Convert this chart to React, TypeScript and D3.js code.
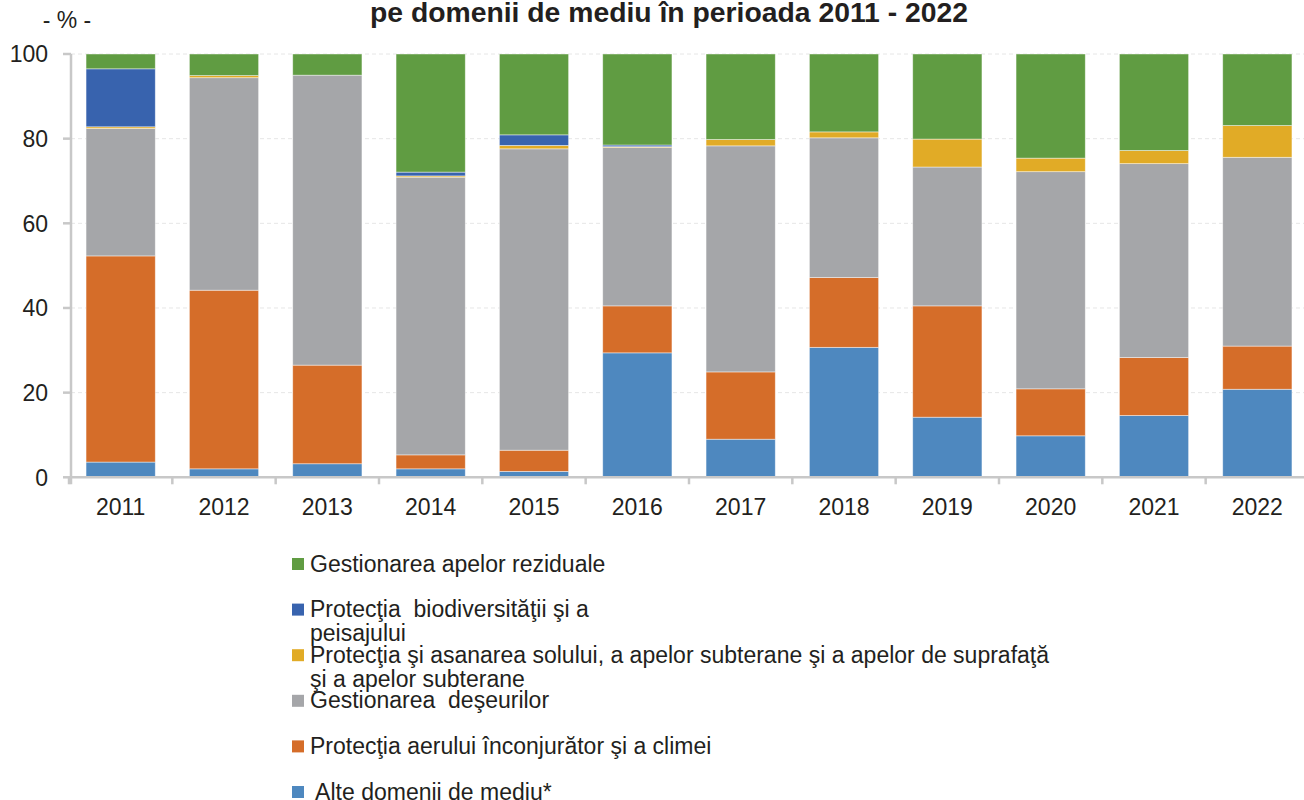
import * as d3 from 'd3';
import React, { useEffect, useRef } from 'react';

const years = ['2011', '2012', '2013', '2014', '2015', '2016', '2017', '2018', '2019', '2020', '2021', '2022'];

// stacked bottom -> top
const alte = [3.6, 2.0, 3.2, 2.0, 1.4, 29.4, 9.0, 30.7, 14.2, 9.8, 14.6, 20.8];
const aer = [48.7, 42.2, 23.3, 3.3, 5.0, 11.1, 15.9, 16.5, 26.3, 11.1, 13.7, 10.2];
const deseuri = [30.1, 50.2, 68.5, 65.6, 71.2, 37.4, 53.4, 33.0, 32.8, 51.3, 45.8, 44.6];
const sol = [0.4, 0.5, 0.0, 0.3, 0.8, 0.2, 1.5, 1.4, 6.6, 3.2, 3.1, 7.5];
const biodiv = [13.7, 0.0, 0.0, 0.9, 2.5, 0.4, 0.0, 0.0, 0.0, 0.0, 0.0, 0.0];
const apeRez = [3.5, 5.1, 5.0, 27.9, 19.1, 21.5, 20.2, 18.4, 20.1, 24.6, 22.8, 16.9];

const yTicks = [0, 20, 40, 60, 80, 100];

const keys = ['alte', 'aer', 'deseuri', 'sol', 'biodiv', 'apeRez'];
const colors = ['#4e88bf', '#d56d29', '#a5a6a9', '#e1ab26', '#3863ae', '#609c42'];

// legend, top -> bottom
const legendKeys = ['apeRez', 'biodiv', 'sol', 'deseuri', 'aer', 'alte'];
const legendLabels = [
  ['Gestionarea apelor reziduale'],
  ['Protecţia  biodiversităţii şi a', 'peisajului'],
  ['Protecţia şi asanarea solului, a apelor subterane şi a apelor de suprafaţă', 'şi a apelor subterane'],
  ['Gestionarea  deşeurilor'],
  ['Protecţia aerului înconjurător şi a climei'],
  [' Alte domenii de mediu*'],
];

const title = 'pe domenii de mediu în perioada 2011 - 2022';

export default function App() {
  const ref = useRef<SVGSVGElement>(null);

  useEffect(() => {
    const svg = d3.select(ref.current);
    svg.selectAll('*').remove();

    const font = '"Liberation Sans", Arial, sans-serif';
    const textColor = '#231f20';
    const axisColor = '#c8c8c8';

    const rows = years.map((year, i) => ({
      year,
      alte: alte[i],
      aer: aer[i],
      deseuri: deseuri[i],
      sol: sol[i],
      biodiv: biodiv[i],
      apeRez: apeRez[i],
    }));

    const x = d3.scaleBand().domain(years).range([69, 1309]).paddingInner(0.33).paddingOuter(0.165);
    const y = d3.scaleLinear().domain([0, 100]).range([477.3, 54]);
    const color = d3.scaleOrdinal<string>().domain(keys).range(colors);

    // title (its first line lies above the frame, as in the source image)
    svg.append('text')
      .attr('x', 669)
      .attr('y', 22)
      .attr('text-anchor', 'middle')
      .attr('font-family', font)
      .attr('font-weight', 'bold')
      .attr('font-size', 28)
      .attr('fill', textColor)
      .attr('textLength', 598)
      .attr('lengthAdjust', 'spacingAndGlyphs')
      .text(title);

    svg.append('text')
      .attr('x', 67)
      .attr('y', 28)
      .attr('text-anchor', 'middle')
      .attr('font-family', font)
      .attr('font-size', 23)
      .attr('fill', textColor)
      .text('- % -');

    // grid
    svg.append('g')
      .selectAll('line')
      .data(yTicks.filter(t => t > 0))
      .enter()
      .append('line')
      .attr('x1', 71)
      .attr('x2', 1304)
      .attr('y1', d => y(d))
      .attr('y2', d => y(d))
      .attr('stroke', '#e6e6e6')
      .attr('stroke-dasharray', '4,3');

    // bars
    const stacked = d3.stack<any>().keys(keys).order(d3.stackOrderNone).offset(d3.stackOffsetNone)(rows);
    svg.append('g')
      .selectAll('g')
      .data(stacked)
      .enter()
      .append('g')
      .attr('fill', d => color(d.key))
      .selectAll('rect')
      .data(d => d)
      .enter()
      .append('rect')
      .attr('x', d => x(d.data.year) as number)
      .attr('width', x.bandwidth())
      .attr('y', d => y(d[1]))
      .attr('height', d => Math.max(0, y(d[0]) - y(d[1])))
      .attr('stroke', 'rgba(255,255,255,0.55)')
      .attr('stroke-width', 0.8);

    // y axis
    const yAxis = svg.append('g');
    yAxis.append('line')
      .attr('x1', 71).attr('x2', 71)
      .attr('y1', y(100)).attr('y2', y(0) + 7)
      .attr('stroke', axisColor).attr('stroke-width', 2.5);
    yAxis.selectAll('line.tick')
      .data(yTicks)
      .enter()
      .append('line')
      .attr('class', 'tick')
      .attr('x1', 63).attr('x2', 71)
      .attr('y1', d => y(d)).attr('y2', d => y(d))
      .attr('stroke', axisColor).attr('stroke-width', 2.5);
    yAxis.selectAll('text')
      .data(yTicks)
      .enter()
      .append('text')
      .attr('x', 48)
      .attr('y', d => y(d))
      .attr('dy', '0.36em')
      .attr('text-anchor', 'end')
      .attr('font-family', font)
      .attr('font-size', 23)
      .attr('fill', textColor)
      .text(d => String(d));

    // x axis
    const xAxis = svg.append('g');
    xAxis.append('line')
      .attr('x1', 69).attr('x2', 1304)
      .attr('y1', y(0)).attr('y2', y(0))
      .attr('stroke', axisColor).attr('stroke-width', 2.5);
    const step = x.step();
    xAxis.selectAll('line.tick')
      .data(years.concat(['end']))
      .enter()
      .append('line')
      .attr('class', 'tick')
      .attr('x1', (d, i) => 69 + i * step)
      .attr('x2', (d, i) => 69 + i * step)
      .attr('y1', y(0)).attr('y2', y(0) + 7)
      .attr('stroke', axisColor).attr('stroke-width', 2.5);
    xAxis.selectAll('text')
      .data(years)
      .enter()
      .append('text')
      .attr('x', d => (x(d) as number) + x.bandwidth() / 2)
      .attr('y', 515)
      .attr('text-anchor', 'middle')
      .attr('font-family', font)
      .attr('font-size', 23)
      .attr('fill', textColor)
      .text(d => d);

    // legend
    const legend = svg.append('g');
    const rowGap = 45.6;
    legendKeys.forEach((k, i) => {
      const cy = 564 + i * rowGap;
      legend.append('rect')
        .attr('x', 292).attr('y', cy - 6)
        .attr('width', 12).attr('height', 12)
        .attr('fill', color(k));
      legendLabels[i].forEach((line, j) => {
        legend.append('text')
          .attr('x', 310)
          .attr('y', cy + 7.5 + j * 24)
          .attr('font-family', font)
          .attr('font-size', 23)
          .attr('fill', textColor)
          .style('white-space', 'pre')
          .text(line);
      });
    });
  }, []);

  return (
    <svg
      ref={ref}
      width={1304}
      height={800}
      style={{ position: 'absolute', left: 0, top: 0, background: '#fff' }}
    />
  );
}
